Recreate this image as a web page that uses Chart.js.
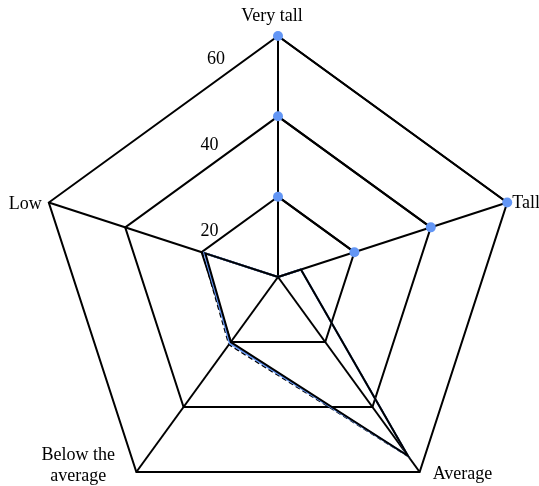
<!DOCTYPE html>
<html><head><meta charset="utf-8">
<script src="https://cdn.jsdelivr.net/npm/chart.js@4"></script>
<style>html,body{margin:0;padding:0;background:#fff}canvas{display:block}</style>
</head><body>
<canvas id="c" width="539" height="486"></canvas>
<script>
// ---- data ----
const categories = ['Very tall', 'Tall', 'Average', ['Below the', 'average'], 'Low'];
const tickValues = [20, 40, 60];
const marker60 = [60, 60, null, null, null];
const marker40 = [40, 40, null, null, null];
const marker20 = [20, 20, null, null, null];
const seriesSolid = [0, 6, 55, 20, 19];
const seriesBlue = [0, 6, 55, 20.4, 19.3];
const seriesDashed = [0, 6, 55.3, 20.8, 19.8];

const BLUE = '#6396f5';
const FONT = '18px "Liberation Serif", "Times New Roman", serif';

const labelPlugin = {
  id: 'customLabels',
  afterDraw(chart, args, opts) {
    const s = chart.scales.r;
    const ctx = chart.ctx;
    ctx.save();
    ctx.font = FONT;
    ctx.fillStyle = '#000';
    ctx.textBaseline = 'alphabetic';
    categories.forEach((lab, i) => {
      const p = s.getPointPosition(i, s.drawingArea);
      const st = opts.pointLabelStyle[i];
      ctx.textAlign = st.align;
      const lines = Array.isArray(lab) ? lab : [lab];
      lines.forEach((t, j) => ctx.fillText(t, p.x + st.dx, p.y + st.dy + j * 21));
    });
    ctx.textAlign = 'center';
    tickValues.forEach(v => {
      const r = s.getDistanceFromCenterForValue(v);
      const dx = -68.5 + Math.max(0, r - 160) * 0.08;
      ctx.fillText(String(v), s.xCenter + dx, s.yCenter - 1.07 * r + 44.5);
    });
    ctx.restore();
  }
};

function markerSet(data) {
  return {
    data, borderColor: '#000', borderWidth: 2, fill: false, spanGaps: false,
    pointRadius: 5, pointBackgroundColor: BLUE, pointBorderColor: BLUE, pointBorderWidth: 0,
    clip: false
  };
}

new Chart(document.getElementById('c'), {
  type: 'radar',
  data: {
    labels: categories,
    datasets: [
      markerSet(marker60),
      markerSet(marker40),
      markerSet(marker20),
      { data: seriesSolid, borderColor: '#000', borderWidth: 2, pointRadius: 0, fill: false, clip: false },
      { data: seriesBlue, borderColor: BLUE, borderWidth: 2, pointRadius: 0, fill: false, clip: false },
      { data: seriesDashed, borderColor: '#000', borderWidth: 1.5, borderDash: [5, 3], pointRadius: 0, fill: false, clip: false }
    ]
  },
  options: {
    responsive: false,
    devicePixelRatio: 1,
    animation: false,
    layout: { padding: 0 },
    elements: { line: { tension: 0 } },
    plugins: {
      legend: { display: false },
      tooltip: { enabled: false },
      customLabels: {
        pointLabelStyle: [
          { dx: -6, dy: -15, align: 'center' },
          { dx: 5, dy: 5, align: 'left' },
          { dx: 13, dy: 7, align: 'left' },
          { dx: -58, dy: -12, align: 'center' },
          { dx: -7, dy: 6, align: 'right' }
        ]
      }
    },
    scales: {
      r: {
        min: 0, max: 60,
        ticks: { stepSize: 20, display: false },
        grid: { color: '#000', lineWidth: 2 },
        angleLines: { color: '#000', lineWidth: 2 },
        pointLabels: { display: false },
        afterFit(scale) {
          scale.xCenter = 278;
          scale.yCenter = 277;
          scale.drawingArea = 241;
        }
      }
    }
  },
  plugins: [labelPlugin]
});
</script>
</body></html>
